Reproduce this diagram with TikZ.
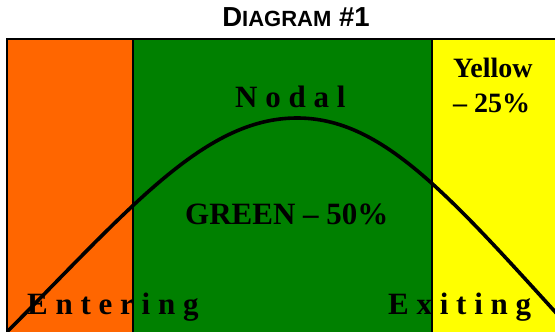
\documentclass[tikz,border=0pt]{standalone}
\usepackage{fontspec}
\setmainfont{Liberation Serif}
\newfontfamily\arialf{Liberation Sans}
\definecolor{zorange}{HTML}{FF6600}
\definecolor{zgreen}{HTML}{008000}
\definecolor{zyellow}{HTML}{FFFF00}
\tikzset{
  lbl/.style={inner sep=0pt, anchor=base west, font=\bfseries\fontsize{31}{31}\selectfont},
  ylbl/.style={inner sep=0pt, anchor=base west, font=\bfseries\fontsize{28}{28}\selectfont},
  divider/.style={line width=1.8pt},
}
\begin{document}
\begin{tikzpicture}[x=1pt,y=-1pt]
\useasboundingbox (0,0) rectangle (555,332);
% panels
\fill[zorange] (7,39) rectangle (133,340);
\fill[zgreen] (133,39) rectangle (432,340);
\fill[zyellow] (432,39) rectangle (560,340);
% frame and dividers
\draw[line width=2.2pt] (7,340) -- (7,39) -- (560,39);
\draw[divider] (133,39) -- (133,340);
\draw[divider] (432,39) -- (432,340);
% title
\node[inner sep=0pt, anchor=base] (title) at (296,27)
  {\arialf\bfseries\fontsize{27.5}{27.5}\selectfont D{\fontsize{22}{22}\selectfont IAGRAM} \#1};
% curve
\begin{scope}
\clip (7,39) rectangle (560,340);
\draw[line width=3.6pt]
  (-4,343) .. controls (126,213) and (202,118) .. (297,118)
           .. controls (382,118) and (448,194) .. (568,326);
\end{scope}
% labels
\node[lbl] (nodal) at (235,107) {N o d a l};
\node[lbl] (green) at (185,224) {GREEN – 50\%};
\node[ylbl] (yellow1) at (453,77) {Yellow};
\node[ylbl] (yellow2) at (453,112) {– 25\%};
\node[lbl] (entering) at (27,314) {E n t e r i n g};
\node[lbl] (exiting) at (388,314) {E x i t i n g};
\end{tikzpicture}
\end{document}
